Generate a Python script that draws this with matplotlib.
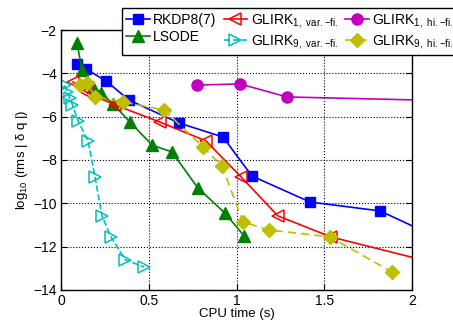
import matplotlib
matplotlib.use("Agg")
import matplotlib.pyplot as plt

plt.rcParams["font.family"] = ["Liberation Sans", "DejaVu Sans"]
plt.rcParams["mathtext.default"] = "regular"

# CPU time (s) and log10 error for each method
rkdp_t = [0.091, 0.142, 0.256, 0.387, 0.672, 0.923, 1.088, 1.419, 1.818, 2.25]
rkdp_e = [-3.57, -3.80, -4.35, -5.23, -6.29, -6.94, -8.74, -9.94, -10.35, -11.98]

lsode_t = [0.091, 0.120, 0.180, 0.230, 0.296, 0.393, 0.519, 0.632, 0.780, 0.934, 1.043]
lsode_e = [-2.60, -3.85, -4.63, -4.91, -5.41, -6.25, -7.31, -7.63, -9.29, -10.45, -11.50]

g1var_t = [0.068, 0.142, 0.308, 0.564, 0.826, 1.026, 1.236, 1.538, 2.30]
g1var_e = [-4.40, -4.86, -5.46, -6.25, -7.12, -8.78, -10.58, -11.55, -13.10]

g9var_t = [0.020, 0.035, 0.050, 0.065, 0.097, 0.154, 0.194, 0.234, 0.285, 0.365, 0.473]
g9var_e = [-4.55, -4.85, -5.15, -5.45, -6.20, -7.12, -8.80, -10.60, -11.55, -12.60, -12.94]

g1hi_t = [0.775, 1.020, 1.288, 2.40]
g1hi_e = [-4.54, -4.49, -5.09, -5.30]

g9hi_t = [0.108, 0.148, 0.194, 0.353, 0.587, 0.809, 0.917, 1.037, 1.185, 1.533, 1.886]
g9hi_e = [-4.54, -4.45, -5.09, -5.32, -5.69, -7.40, -8.28, -10.86, -11.23, -11.55, -13.17]

x_ticks = [0, 0.5, 1, 1.5, 2]
y_ticks = [-14, -12, -10, -8, -6, -4, -2]


def main() -> None:
    fig = plt.figure(figsize=(4.53, 3.23), dpi=100)
    ax = fig.add_axes([0.1347, 0.1022, 0.7748, 0.8049])

    lw = 1.2
    ms = 7
    ax.plot(rkdp_t, rkdp_e, "-s", color=(0, 0, 1), lw=lw, ms=ms, label="RKDP8(7)")
    ax.plot(lsode_t, lsode_e, "-^", color=(0, 0.5, 0), lw=lw, ms=ms + 1, label="LSODE")
    ax.plot(g1var_t, g1var_e, "-<", color=(1, 0, 0), lw=lw, ms=ms + 1, mfc="none",
            mew=1.1, label=r"GLIRK$_{1,\ var.{-}fi.}$")
    ax.plot(g9var_t, g9var_e, "-->", color=(0, 0.75, 0.75), lw=lw, ms=ms + 1, mfc="none",
            mew=1.1, label=r"GLIRK$_{9,\ var.{-}fi.}$")
    ax.plot(g1hi_t, g1hi_e, "-o", color=(0.75, 0, 0.75), lw=lw, ms=ms + 1,
            label=r"GLIRK$_{1,\ hi.{-}fi.}$")
    ax.plot(g9hi_t, g9hi_e, "--D", color=(0.75, 0.75, 0), lw=lw, ms=ms, dashes=(5, 3),
            label=r"GLIRK$_{9,\ hi.{-}fi.}$")

    ax.set_xlim(0, 2)
    ax.set_ylim(-14, -2)
    ax.set_xticks(x_ticks)
    ax.set_xticklabels(["0", "0.5", "1", "1.5", "2"])
    ax.set_yticks(y_ticks)
    ax.tick_params(direction="in", top=True, right=True, labelsize=10, length=4, pad=3)
    ax.grid(True, linestyle=":", color="black", lw=0.8)
    for s in ax.spines.values():
        s.set_linewidth(1.0)

    ax.set_xlabel("CPU time (s)", fontsize=9.5, labelpad=0)
    ax.set_ylabel("log$_{10}$ (rms | δ q |)", fontsize=9.5, labelpad=2)

    leg = fig.legend(loc="upper left", bbox_to_anchor=(122 / 453, 1 - 8 / 323), ncol=3,
                     fontsize=10, frameon=True, fancybox=False, edgecolor="black",
                     framealpha=1, handlelength=1.7, columnspacing=0.5,
                     handletextpad=0.25, borderpad=0.3, labelspacing=0.2,
                     borderaxespad=0)
    leg.get_frame().set_linewidth(1.0)

    fig.savefig("out.png", dpi=100)
    plt.close(fig)


if __name__ == "__main__":
    main()
